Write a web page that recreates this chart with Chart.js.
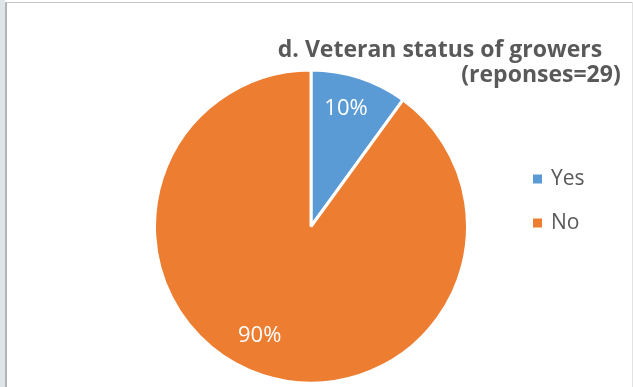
<!DOCTYPE html>
<html>
<head>
<meta charset="utf-8">
<script src="https://cdn.jsdelivr.net/npm/chart.js@4/dist/chart.umd.min.js"></script>
<style>
    html, body { margin: 0; padding: 0; background: #ffffff; }
    #wrap { position: absolute; left: 0; top: 0; width: 633px; height: 387px; }
    .strip { position: absolute; left: 0; top: 0; width: 5px; height: 387px; background: #dfe6ea; }
    .edgeLeft { position: absolute; left: 5px; top: 2px; width: 2px; height: 385px; background: #b4b4b4; }
    .edgeTop { position: absolute; left: 5px; top: 2px; width: 628px; height: 1px; background: #c4c4c4; }
    .edgeRight { position: absolute; left: 632px; top: 2px; width: 1px; height: 385px; background: #e2e2e2; }
</style>
</head>
<body>
<div id="wrap"><canvas id="vetChart"></canvas></div>
<div class="strip"></div>
<div class="edgeLeft"></div>
<div class="edgeTop"></div>
<div class="edgeRight"></div>
<script>
const categories = ['Yes', 'No'];
const shares = [10, 90];
const titleLines = ['d. Veteran status of growers', '(reponses=29)'];

const sliceColors = ['#5B9BD5', '#ED7D31'];
const textGray = '#595959';

// where each title line is centred, and how far out each % label sits
const titlePlacement = [{ x: 440, y: 57 }, { x: 541, y: 82 }];
const labelPlacement = [{ r: 0.785, turn: -0.008 }, { r: 0.77, turn: 0.04 }];

const titlePlugin = {
    id: 'titleLines',
    afterDraw(chart) {
        const ctx = chart.ctx;
        ctx.save();
        ctx.fillStyle = textGray;
        ctx.font = 'bold 23px "Open Sans"';
        ctx.textAlign = 'center';
        ctx.textBaseline = 'alphabetic';
        titleLines.forEach((line, i) => {
            ctx.fillText(line, titlePlacement[i].x, titlePlacement[i].y);
        });
        ctx.restore();
    }
};

const pctLabels = {
    id: 'pctLabels',
    afterDatasetsDraw(chart) {
        const ctx = chart.ctx;
        const meta = chart.getDatasetMeta(0);
        const total = shares.reduce((a, b) => a + b, 0);
        ctx.save();
        ctx.fillStyle = '#ffffff';
        ctx.font = '22px "Open Sans"';
        ctx.textAlign = 'center';
        ctx.textBaseline = 'middle';
        meta.data.forEach((arc, i) => {
            const p = arc.getProps(['x', 'y', 'startAngle', 'endAngle', 'outerRadius'], true);
            const mid = (p.startAngle + p.endAngle) / 2 + labelPlacement[i].turn * Math.PI;
            const r = p.outerRadius * labelPlacement[i].r;
            const text = Math.round(shares[i] / total * 100) + '%';
            ctx.fillText(text, p.x + Math.cos(mid) * r, p.y + Math.sin(mid) * r);
        });
        ctx.restore();
    }
};

const legendPlugin = {
    id: 'sideLegend',
    afterDraw(chart) {
        const ctx = chart.ctx;
        ctx.save();
        ctx.font = '21px "Open Sans"';
        ctx.textBaseline = 'middle';
        ctx.textAlign = 'left';
        categories.forEach((name, i) => {
            const y = 179 + i * 44;
            ctx.fillStyle = sliceColors[i];
            ctx.fillRect(533, y - 4.5, 9, 9);
            ctx.fillStyle = textGray;
            ctx.fillText(name, 551, y);
        });
        ctx.restore();
    }
};

function initChart() {
    const ctx = document.getElementById('vetChart').getContext('2d');
    new Chart(ctx, {
        type: 'pie',
        data: {
            labels: categories,
            datasets: [{
                data: shares,
                backgroundColor: sliceColors,
                borderColor: '#ffffff',
                borderWidth: 3
            }]
        },
        options: {
            responsive: true,
            maintainAspectRatio: false,
            animation: false,
            layout: {
                padding: { left: 153, right: 164, top: 68.5, bottom: 2.5 }
            },
            plugins: {
                legend: { display: false },
                title: { display: false },
                tooltip: { enabled: false }
            }
        },
        plugins: [titlePlugin, pctLabels, legendPlugin]
    });
}

document.addEventListener('DOMContentLoaded', initChart);
</script>
</body>
</html>
